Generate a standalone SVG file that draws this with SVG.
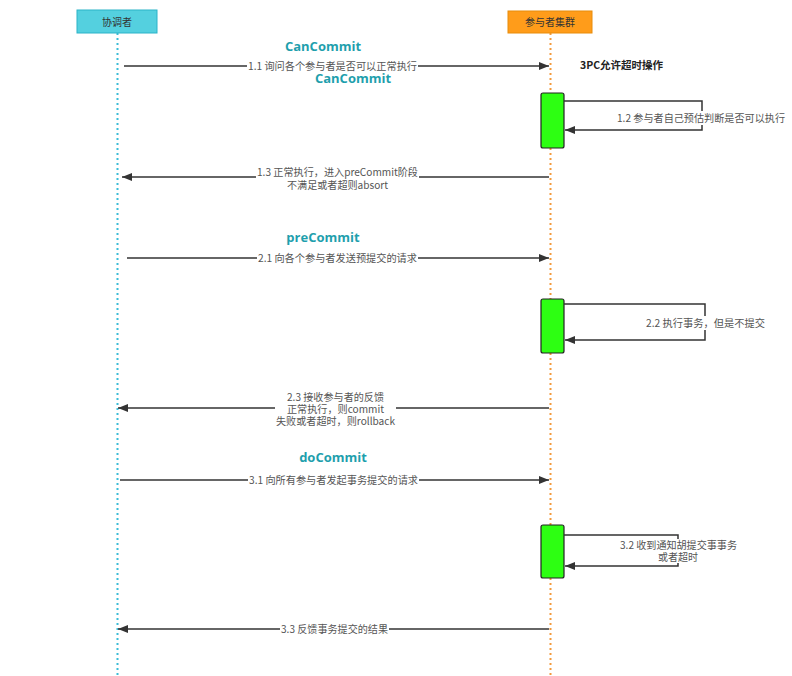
<svg xmlns="http://www.w3.org/2000/svg" width="792" height="676" viewBox="0 0 792 676">
<style>
text{font-family:"Noto Sans CJK SC","Noto Sans",sans-serif;}
.lbl{font-size:10.5px;fill:#555;text-anchor:middle;}
.lbll{font-size:10.5px;fill:#555;}
.hd{font-size:13px;font-weight:bold;fill:#1f9fad;text-anchor:middle;font-family:"Open Sans","Noto Sans CJK SC",sans-serif;}
.msg{stroke:#333;stroke-width:1.5;fill:none;}
.bg{fill:#fff;}
.act{fill:#2dff12;stroke:#222;stroke-width:1.2;}
</style>
<defs>
<marker id="ah" viewBox="0 0 10 10" refX="10" refY="5" markerWidth="10" markerHeight="10" markerUnits="userSpaceOnUse" orient="auto">
<path d="M0,1 L10,5 L0,9 Z" fill="#333"/>
</marker>
</defs>
<rect width="792" height="676" fill="#fff"/>
<g id="coordinator">
<line x1="117.5" y1="33" x2="117.5" y2="676" stroke="#3bbcd6" stroke-width="2" stroke-dasharray="2,3"/>
<rect x="77" y="10" width="80" height="23" fill="#54d0df" stroke="#2bb3c8" stroke-width="1"/>
<text x="117" y="25.5" font-size="10" fill="#333" text-anchor="middle">协调者</text>
</g>
<g id="participants">
<line x1="550.5" y1="33" x2="550.5" y2="676" stroke="#f39a3c" stroke-width="2" stroke-dasharray="2,3"/>
<rect x="508" y="11" width="84" height="22" fill="#ff9c1a" stroke="#e88c0a" stroke-width="1"/>
<text x="550" y="26" font-size="10" fill="#333" text-anchor="middle">参与者集群</text>
</g>
<g id="act1"><rect class="act" x="541" y="93" width="23" height="55" rx="2"/></g>
<g id="act2"><rect class="act" x="541" y="299" width="23" height="54" rx="2"/></g>
<g id="act3"><rect class="act" x="541" y="525" width="23" height="53" rx="2"/></g>
<g id="notes">
<text class="hd" x="323" y="51">CanCommit</text>
<text class="hd" x="353" y="83">CanCommit</text>
<text x="580" y="69" font-size="10.5" font-weight="bold" fill="#222">3PC允许超时操作</text>
<text class="hd" x="323" y="242">preCommit</text>
<text class="hd" x="333" y="462">doCommit</text>
</g>
<g id="connectors">
<line class="msg" x1="124" y1="66" x2="549" y2="66" marker-end="url(#ah)"/>
<rect class="bg" x="247" y="59" width="171" height="14"/>
<text class="lbll" x="248" y="70" textLength="169" lengthAdjust="spacingAndGlyphs">1.1 询问各个参与者是否可以正常执行</text>

<polyline class="msg" points="564,101 702,101 702,130 565,130" marker-end="url(#ah)"/>
<rect class="bg" x="616" y="111" width="170" height="14"/>
<text class="lbll" x="617" y="122" textLength="168" lengthAdjust="spacingAndGlyphs">1.2 参与者自己预估判断是否可以执行</text>

<line class="msg" x1="549" y1="177" x2="122" y2="177" marker-end="url(#ah)"/>
<rect class="bg" x="256" y="166" width="163" height="25"/>
<text class="lbll" x="257" y="176" textLength="161" lengthAdjust="spacingAndGlyphs">1.3 正常执行，进入preCommit阶段</text>
<text class="lbll" x="287" y="189" textLength="101" lengthAdjust="spacingAndGlyphs">不满足或者超则absort</text>

<line class="msg" x1="127" y1="258" x2="549" y2="258" marker-end="url(#ah)"/>
<rect class="bg" x="257" y="251" width="161" height="14"/>
<text class="lbll" x="258" y="262" textLength="159" lengthAdjust="spacingAndGlyphs">2.1 向各个参与者发送预提交的请求</text>

<polyline class="msg" points="564,304 705,304 705,340 565,340" marker-end="url(#ah)"/>
<rect class="bg" x="645" y="316" width="121" height="14"/>
<text class="lbll" x="646" y="327" textLength="119" lengthAdjust="spacingAndGlyphs">2.2 执行事务，但是不提交</text>

<line class="msg" x1="549" y1="408" x2="118" y2="408" marker-end="url(#ah)"/>
<rect class="bg" x="275" y="390" width="121" height="38"/>
<text class="lbll" x="287" y="401" textLength="97" lengthAdjust="spacingAndGlyphs">2.3 接收参与者的反馈</text>
<text class="lbll" x="287" y="413" textLength="97" lengthAdjust="spacingAndGlyphs">正常执行，则commit</text>
<text class="lbll" x="276" y="425" textLength="119" lengthAdjust="spacingAndGlyphs">失败或者超时，则rollback</text>

<line class="msg" x1="120" y1="480" x2="549" y2="480" marker-end="url(#ah)"/>
<rect class="bg" x="248" y="473" width="171" height="14"/>
<text class="lbll" x="249" y="484" textLength="169" lengthAdjust="spacingAndGlyphs">3.1 向所有参与者发起事务提交的请求</text>

<polyline class="msg" points="564,535 678,535 678,566 565,566" marker-end="url(#ah)"/>
<rect class="bg" x="619" y="539" width="119" height="24"/>
<text class="lbll" x="620" y="549" textLength="117" lengthAdjust="spacingAndGlyphs">3.2 收到通知胡提交事事务</text>
<text class="lbll" x="658" y="561" textLength="40" lengthAdjust="spacingAndGlyphs">或者超时</text>

<line class="msg" x1="549" y1="629" x2="118" y2="629" marker-end="url(#ah)"/>
<rect class="bg" x="280" y="622" width="109" height="14"/>
<text class="lbll" x="281" y="633" textLength="107" lengthAdjust="spacingAndGlyphs">3.3 反馈事务提交的结果</text>
</g>
</svg>
